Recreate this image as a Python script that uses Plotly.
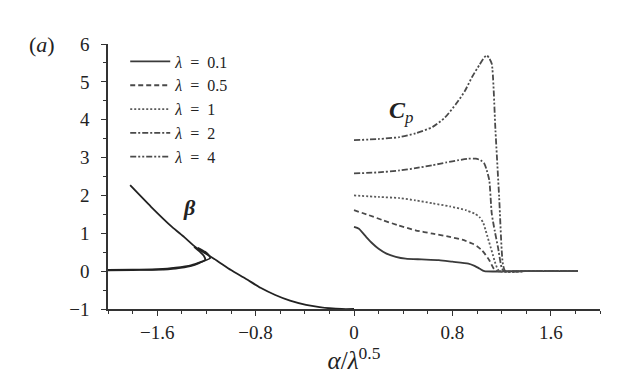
import plotly.graph_objects as go

# ---- data ----
beta_x = [-1.82, -1.65, -1.48, -1.38, -1.29, -1.20, -1.12, -1.00, -0.88, -0.76, -0.64, -0.52, -0.39, -0.28, -0.20, -0.10, 0.0]
beta_y = [2.27, 1.70, 1.17, 0.90, 0.64, 0.45, 0.29, 0.03, -0.20, -0.44, -0.63, -0.78, -0.89, -0.95, -0.98, -1.0, -1.0]

loop1_x = [-2.0, -1.8, -1.59, -1.45, -1.32, -1.24, -1.17, -1.18, -1.21, -1.27]
loop1_y = [0.03, 0.04, 0.05, 0.09, 0.16, 0.25, 0.34, 0.42, 0.51, 0.62]
loop2_x = [-2.0, -1.8, -1.59, -1.45, -1.33, -1.26, -1.21, -1.22, -1.25, -1.30]
loop2_y = [0.02, 0.03, 0.04, 0.07, 0.13, 0.21, 0.30, 0.40, 0.50, 0.64]

cp01_x = [0.0, 0.04, 0.10, 0.15, 0.20, 0.26, 0.34, 0.42, 0.55, 0.69, 0.80, 0.93, 0.98, 1.02, 1.06, 1.3, 1.6, 1.82]
cp01_y = [1.17, 1.12, 0.90, 0.73, 0.59, 0.47, 0.38, 0.33, 0.31, 0.29, 0.25, 0.20, 0.14, 0.07, 0.0, 0.0, 0.0, 0.0]

cp05_x = [0.0, 0.12, 0.23, 0.36, 0.50, 0.64, 0.77, 0.88, 0.96, 1.00, 1.04, 1.07, 1.10, 1.14, 1.17, 1.4, 1.82]
cp05_y = [1.61, 1.48, 1.35, 1.21, 1.08, 0.99, 0.91, 0.83, 0.73, 0.66, 0.55, 0.43, 0.29, 0.05, 0.0, 0.0, 0.0]

cp1_x = [0.0, 0.2, 0.37, 0.5, 0.64, 0.78, 0.91, 0.98, 1.02, 1.05, 1.07, 1.09, 1.11, 1.13, 1.15, 1.18, 1.4, 1.82]
cp1_y = [2.00, 1.96, 1.93, 1.87, 1.79, 1.71, 1.61, 1.52, 1.43, 1.28, 1.08, 0.86, 0.64, 0.42, 0.20, 0.0, 0.0, 0.0]

cp2_x = [0.0, 0.2, 0.37, 0.5, 0.64, 0.75, 0.85, 0.93, 0.99, 1.03, 1.06, 1.08, 1.10, 1.12, 1.145, 1.17, 1.20, 1.22, 1.4, 1.82]
cp2_y = [2.58, 2.61, 2.66, 2.72, 2.80, 2.87, 2.93, 2.97, 2.97, 2.93, 2.84, 2.66, 2.40, 1.52, 1.05, 0.64, 0.10, 0.0, 0.0, 0.0]

cp4_x = [0.0, 0.2, 0.37, 0.5, 0.64, 0.74, 0.83, 0.90, 0.96, 1.02, 1.06, 1.08, 1.10, 1.12, 1.15, 1.18, 1.21, 1.23, 1.4, 1.82]
cp4_y = [3.46, 3.49, 3.54, 3.64, 3.81, 4.06, 4.42, 4.75, 5.13, 5.45, 5.65, 5.70, 5.62, 5.48, 3.72, 1.96, 0.20, 0.0, 0.0, 0.0]

lambda_labels = ["0.1", "0.5", "1", "2", "4"]

x_tickvals = [-1.6, -0.8, 0, 0.8, 1.6]
x_ticktext = ["\u22121.6", "\u22120.8", "0", "0.8", "1.6"]
y_tickvals = [-1, 0, 1, 2, 3, 4, 5, 6]

# ---- figure ----
FONT = "Liberation Serif, Times New Roman, serif"
fig = go.Figure()

series = [
    (cp01_x, cp01_y, "solid", "#3a3a3a"),
    (cp05_x, cp05_y, "5px,3px", "#4a4a4a"),
    (cp1_x, cp1_y, "2px,2px", "#5a5a5a"),
    (cp2_x, cp2_y, "6px,2px,2px,2px", "#4a4a4a"),
    (cp4_x, cp4_y, "6px,2px,2px,2px,2px,2px", "#4a4a4a"),
]
for (xs, ys, dash, col), lab in zip(series, lambda_labels):
    fig.add_trace(go.Scatter(
        x=xs, y=ys, mode="lines", line=dict(color=col, width=1.8, dash=dash, shape="spline", smoothing=0.6),
        name="<i>\u03bb</i>\u2002=\u2002" + lab))

for xs, ys in [(beta_x, beta_y), (loop1_x, loop1_y), (loop2_x, loop2_y)]:
    fig.add_trace(go.Scatter(
        x=xs, y=ys, mode="lines", line=dict(color="#222222", width=1.8, shape="spline", smoothing=0.6),
        showlegend=False))

fig.add_annotation(x=-1.34, y=1.69, text="<b><i>\u03b2</i></b>", showarrow=False,
                   font=dict(family=FONT, size=22, color="#222"))
fig.add_annotation(x=0.38, y=4.2, text="<b><i>C</i></b><sub><i>p</i></sub>", showarrow=False,
                   font=dict(family=FONT, size=24, color="#222"))
fig.add_annotation(x=-0.134, y=1.0, xref="paper", yref="paper", xanchor="center", yanchor="middle",
                   text="(<i>a</i>)", showarrow=False,
                   font=dict(family=FONT, size=22, color="#222"))

axis_common = dict(showline=True, linecolor="#333", linewidth=1.5, ticks="outside", tickcolor="#333",
                   ticklen=5, tickwidth=1.3, showgrid=False, zeroline=False, mirror=False,
                   tickfont=dict(family=FONT, size=19, color="#222"))

fig.update_xaxes(range=[-2.0, 2.0], tickvals=x_tickvals, ticktext=x_ticktext,
                 minor=dict(dtick=0.2, tick0=0, ticks="outside", ticklen=3, tickcolor="#333", showgrid=False),
                 title=dict(text="<i>\u03b1</i>/<i>\u03bb</i><sup>0.5</sup>",
                            font=dict(family=FONT, size=25, color="#222"), standoff=4),
                 **axis_common)
fig.update_yaxes(range=[-1.0, 6.0], tickvals=y_tickvals,
                 minor=dict(dtick=0.5, tick0=0, ticks="outside", ticklen=3, tickcolor="#333", showgrid=False),
                 ticklabelstandoff=8, **axis_common)

fig.update_layout(
    width=625, height=389,
    margin=dict(l=108, r=25, t=44, b=80, autoexpand=False),
    paper_bgcolor="white", plot_bgcolor="white",
    font=dict(family=FONT, size=17, color="#222"),
    legend=dict(x=0.035, y=0.998, xanchor="left", yanchor="top", bgcolor="rgba(0,0,0,0)",
                font=dict(family=FONT, size=16, color="#222"), tracegroupgap=0, itemwidth=40),
)

fig.write_html("out.html", config={"displayModeBar": False},
               post_script="document.body.style.margin='0';document.body.style.overflow='hidden';")
